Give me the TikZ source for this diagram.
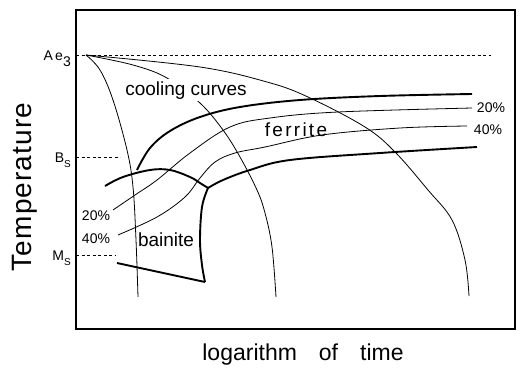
\documentclass[tikz,border=0pt]{standalone}
\usepackage{fontspec}
\setmainfont{Liberation Sans}
\newcommand{\lblfont}[2]{\fontsize{#1}{#1}\selectfont\addfontfeature{LetterSpace=#2}}
\tikzset{
  thin curve/.style={line width=0.8pt},
  thick curve/.style={line width=1.9pt},
  ref line/.style={line width=0.8pt, dash pattern=on 3pt off 2.5pt},
}
\begin{document}
\begin{tikzpicture}[x=1pt, y=-1pt, every node/.style={inner sep=0pt}]
\useasboundingbox (0,0) rectangle (529,375);
% Frame (pixel coordinates, y downwards)
\draw[line width=1.5pt] (76,10) rectangle (515,329);
% Reference temperatures
\foreach \y/\xend/\lab [count=\i] in {
  55/491/{A\,e\raisebox{-6pt}{3}},
  157/120/{B\raisebox{-5pt}{\fontsize{10}{10}\selectfont S}},
  255/115/{M\raisebox{-5pt}{\fontsize{10}{10}\selectfont S}}%
} {
  \draw[ref line] (76,\y) -- (\xend,\y);
  \node[anchor=base east, font=\lblfont{14}{0}] (temp\i) at (71,{\y+5}) {\lab};
}
% Cooling curves
\draw[thin curve] plot[smooth, tension=0.6] coordinates {(86,55) (100,70) (113,100) (127,150) (133,187) (136,240) (138,297)};
\draw[thin curve] plot[smooth, tension=0.6] coordinates {(86,55) (133,65) (167,78) (200,103) (223,130) (240,157) (257,190) (265,213) (272,247) (276,297)};
\draw[thin curve] plot[smooth, tension=0.6] coordinates {(86,55) (200,67) (267,82) (308,97) (365,127) (395,152) (428,190) (452,220) (465,260) (469,296)};
% Ferrite start and 20%/40% lines
\draw[thick curve] plot[smooth, tension=0.6] coordinates {(137,170) (150,148) (170,131) (200,117) (240,107) (300,100) (380,96) (472,94)};
\draw[thin curve] plot[smooth, tension=0.6] coordinates {(113,210) (135,195) (157,180) (190,153) (230,127) (270,118) (338,112) (472,108)};
\draw[thin curve] plot[smooth, tension=0.6] coordinates {(118,235) (157,217) (185,197) (200,178) (215,162) (235,153) (265,147) (322,135) (400,128) (467,126)};
% Bainite region
\draw[thick curve] plot[smooth, tension=0.6] coordinates {(105,186) (123,177) (150,170) (170,170) (190,177) (200,183) (208,188)};
\draw[thick curve] plot[smooth, tension=0.6] coordinates {(208,188) (223,180) (250,170) (290,160) (380,153) (477,147)};
\draw[thick curve] plot[smooth, tension=0.6] coordinates {(208,188) (202,207) (200,240) (202,265) (205,282)};
\draw[thick curve] (205,282) -- (117,263);
% Labels
\node[anchor=base, fill=white, inner sep=2pt, font=\lblfont{19}{0}] (cool) at (186,95) {cooling curves};
\node[anchor=base, font=\lblfont{19}{12}] (ferr) at (296,136) {ferrite};
\node[anchor=base, font=\lblfont{19}{0}] (bain) at (166,246) {bainite};
\node[anchor=base, font=\lblfont{14}{0}] (pl20) at (96,220) {20\%};
\node[anchor=base, font=\lblfont{14}{0}] (pl40) at (96,243) {40\%};
\node[anchor=base, font=\lblfont{14}{0}] (pr20) at (491,112) {20\%};
\node[anchor=base, font=\lblfont{14}{0}] (pr40) at (488,134) {40\%};
% Axis titles
\node[anchor=base, rotate=90, font=\lblfont{28}{4}] (ytitle) at (31,187) {Temperature};
\node[anchor=base, font=\lblfont{23}{0}] (xtitle) at (303,360) {logarithm\hspace{22pt}of\hspace{22pt}time};
\end{tikzpicture}
\end{document}
